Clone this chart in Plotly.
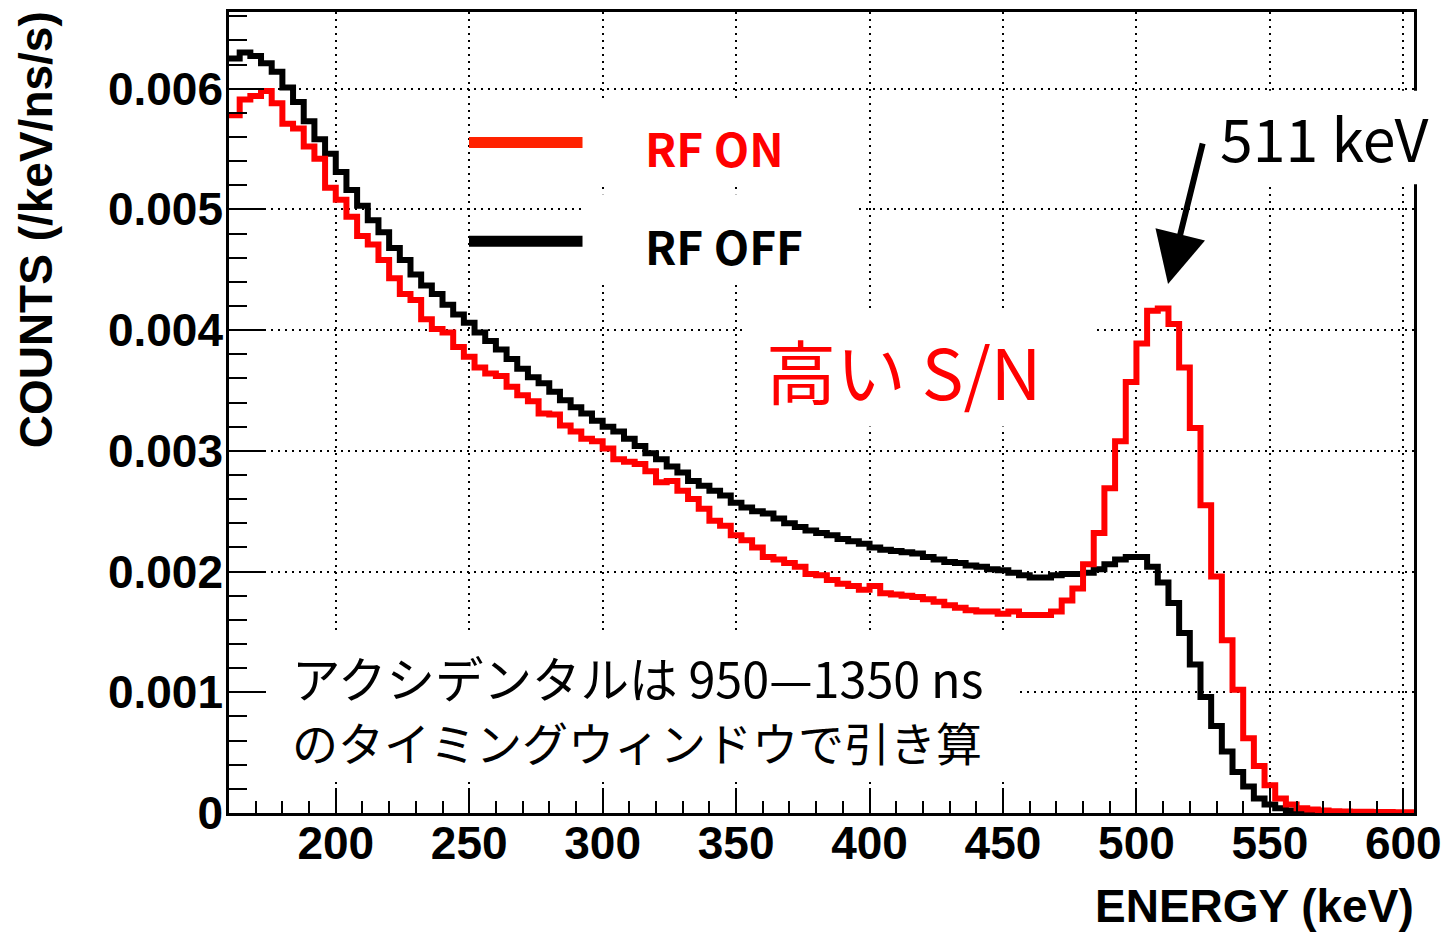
import numpy as np
import plotly.graph_objects as go

# ---------------- data ----------------
BIN_LOW = 160.0   # keV, lower edge of first bin
BIN_WIDTH = 4.0   # keV

rf_off = [
    0.00625, 0.00630, 0.00627, 0.00621, 0.00614, 0.00601, 0.00589, 0.00573, 0.00558, 0.00546,
    0.00531, 0.00516, 0.00503, 0.00491, 0.00481, 0.00468, 0.00458, 0.00446, 0.00437, 0.00430,
    0.00421, 0.00413, 0.00406, 0.00398, 0.00391, 0.00384, 0.00376, 0.00368, 0.00361, 0.00356,
    0.00349, 0.00342, 0.00336, 0.00331, 0.00325, 0.00320, 0.00316, 0.00310, 0.00304, 0.00298,
    0.00293, 0.00287, 0.00282, 0.00275, 0.00271, 0.00267, 0.00263, 0.00257, 0.00253, 0.00250,
    0.00248, 0.00244, 0.00240, 0.00237, 0.00234, 0.00232, 0.00230, 0.00227, 0.00225, 0.00223,
    0.00220, 0.00218, 0.00217, 0.00216, 0.00215, 0.00212, 0.00210, 0.00208, 0.00207, 0.00205,
    0.00204, 0.00202, 0.00201, 0.00199, 0.00197, 0.00195, 0.00195, 0.00197, 0.00198, 0.00198,
    0.00199, 0.00202, 0.00206, 0.00210, 0.00212, 0.00212, 0.00204, 0.00191, 0.00174, 0.00149,
    0.00123, 0.00096, 0.00072, 0.00051, 0.00034, 0.00022, 0.00012, 0.00007, 0.00004, 0.00002,
    0.000012, 0.000008, 0.000005, 0.000004, 0.000003, 0.000002, 0.000002, 0.000001, 0.000001,
    0.000001, 0.000001,
]

rf_on = [
    0.00578, 0.00591, 0.00594, 0.00598, 0.00588, 0.00571, 0.00567, 0.00552, 0.00542, 0.00518,
    0.00508, 0.00494, 0.00478, 0.00471, 0.00458, 0.00443, 0.00430, 0.00425, 0.00409, 0.00401,
    0.00398, 0.00386, 0.00378, 0.00369, 0.00364, 0.00362, 0.00353, 0.00346, 0.00341, 0.00331,
    0.00330, 0.00321, 0.00316, 0.00310, 0.00308, 0.00302, 0.00293, 0.00291, 0.00289, 0.00283,
    0.00274, 0.00275, 0.00267, 0.00260, 0.00252, 0.00242, 0.00238, 0.00230, 0.00226, 0.00220,
    0.00212, 0.00210, 0.00207, 0.00204, 0.00198, 0.00197, 0.00193, 0.00190, 0.00188, 0.00185,
    0.00188, 0.00182, 0.00181, 0.00180, 0.00179, 0.00177, 0.00175, 0.00172, 0.00170, 0.00168,
    0.00167, 0.00167, 0.00165, 0.00167, 0.00164, 0.00164, 0.00164, 0.00167, 0.00176, 0.00186,
    0.00206, 0.00232, 0.00269, 0.00308, 0.00357, 0.00389, 0.00416, 0.00418, 0.00405, 0.00369,
    0.00319, 0.00255, 0.00196, 0.00143, 0.00102, 0.00062, 0.00039, 0.00023, 0.00012, 0.00007,
    0.00004, 0.00003, 0.00002, 0.000015, 0.000012, 0.00001, 0.00001, 0.000008, 0.000008,
    0.000006, 0.000006,
]

x_tick_vals = [200, 250, 300, 350, 400, 450, 500, 550, 600]
x_tick_text = ["200", "250", "300", "350", "400", "450", "500", "550", "600"]
y_tick_vals = [0, 0.001, 0.002, 0.003, 0.004, 0.005, 0.006]
y_tick_text = ["0", "0.001", "0.002", "0.003", "0.004", "0.005", "0.006"]

x_range = [160, 604]
y_range = [0, 0.006635]

# ---------------- helpers ----------------
W, H = 1451, 933
PL, PR, PT, PB = 229, 1419, 9, 813


def px(xp):
    return (xp - PL) / (PR - PL)


def py(yp):
    return (PB - yp) / (PB - PT)


def step_xy(vals):
    n = len(vals)
    edges = BIN_LOW + BIN_WIDTH * np.arange(n + 1)
    return list(edges), list(vals) + [vals[-1]]


AX_FONT = dict(family="Liberation Sans, Arial, sans-serif", size=46, color="black", weight="bold")
JP = "Noto Sans CJK JP"

fig = go.Figure()
xo, yo = step_xy(rf_off)
fig.add_trace(go.Scatter(x=xo, y=yo, mode="lines", line=dict(color="black", width=6, shape="hv"),
                         name="RF OFF", showlegend=False))
xn, yn = step_xy(rf_on)
fig.add_trace(go.Scatter(x=xn, y=yn, mode="lines", line=dict(color="#ff0000", width=6, shape="hv"),
                         name="RF ON", showlegend=False))

grid = dict(showgrid=True, gridcolor="black", gridwidth=2, griddash="2px,5px")

fig.update_xaxes(
    range=x_range, tickmode="array", tickvals=x_tick_vals, ticktext=x_tick_text,
    ticks="inside", ticklen=25, tickwidth=2, tickcolor="black",
    showline=True, linecolor="black", linewidth=2.5, mirror=True,
    tickfont=AX_FONT, zeroline=False, ticklabelstandoff=-12,
    minor=dict(ticks="inside", ticklen=12, tickwidth=2, tickcolor="black", tick0=0, dtick=10, showgrid=False),
    **grid,
)
fig.update_yaxes(
    range=y_range, tickmode="array", tickvals=y_tick_vals, ticktext=y_tick_text,
    ticks="inside", ticklen=35, tickwidth=2, tickcolor="black",
    showline=True, linecolor="black", linewidth=2.5, mirror=True,
    tickfont=AX_FONT, zeroline=False, ticklabelstandoff=-6,
    minor=dict(ticks="inside", ticklen=18, tickwidth=2, tickcolor="black", tick0=0, dtick=0.0002, showgrid=False),
    **grid,
)

shapes = []
# white text-box backgrounds (overlaid by the slide text)
for (x0, y0, x1, y1) in [(584, 97, 857, 183), (584, 192, 857, 283), (746, 310, 1100, 425),
                         (1190, 88, 1451, 182), (270, 632, 1020, 782)]:
    shapes.append(dict(type="rect", xref="paper", yref="paper", x0=px(x0), x1=px(x1), y0=py(y1), y1=py(y0),
                       fillcolor="white", line=dict(width=0), layer="above"))
# legend sample lines
shapes.append(dict(type="line", xref="paper", yref="paper", x0=px(470), x1=px(584), y0=py(140), y1=py(140),
                   line=dict(color="#ff2200", width=11), layer="above"))
shapes.append(dict(type="line", xref="paper", yref="paper", x0=px(470), x1=px(584), y0=py(239), y1=py(239),
                   line=dict(color="black", width=11), layer="above"))

annotations = [
    dict(text="COUNTS (/keV/ns/s)", xref="paper", yref="paper", x=px(35), y=py(6), xanchor="center",
         yanchor="top", textangle=-90, showarrow=False, font=AX_FONT),
    dict(text="ENERGY (keV)", xref="paper", yref="paper", x=px(1421), y=py(906), xanchor="right",
         yanchor="middle", showarrow=False, font=AX_FONT),
    dict(text="RF ON", xref="paper", yref="paper", x=px(645), y=py(145), xanchor="left", yanchor="middle",
         showarrow=False, font=dict(family=JP, size=46, color="#ff0000", weight="bold")),
    dict(text="RF OFF", xref="paper", yref="paper", x=px(645), y=py(243), xanchor="left", yanchor="middle",
         showarrow=False, font=dict(family=JP, size=46, color="black", weight="bold")),
    dict(text="高い S/N", xref="paper", yref="paper", x=px(766), y=py(368), xanchor="left", yanchor="middle",
         showarrow=False, font=dict(family=JP, size=70, color="#ff0000")),
    dict(text="511 keV", xref="paper", yref="paper", x=px(1222), y=py(134), xanchor="left", yanchor="middle",
         showarrow=False, font=dict(family=JP, size=59, color="black")),
    dict(text="アクシデンタルは 950—1350 ns", xref="paper", yref="paper", x=px(290), y=py(676),
         xanchor="left", yanchor="middle", showarrow=False, font=dict(family=JP, size=48.5, color="black")),
    dict(text="のタイミングウィンドウで引き算", xref="paper", yref="paper", x=px(290), y=py(741),
         xanchor="left", yanchor="middle", showarrow=False, font=dict(family=JP, size=46, color="black")),
    dict(text="", xref="paper", yref="paper", x=px(1172), y=py(282), showarrow=True, ax=35, ay=-142,
         axref="pixel", ayref="pixel", arrowhead=2, arrowsize=1.7, arrowwidth=6, arrowcolor="black", standoff=0),
]

fig.update_layout(
    width=W, height=H,
    margin=dict(l=PL, r=W - PR, t=PT, b=H - PB),
    plot_bgcolor="white", paper_bgcolor="white",
    showlegend=False,
    shapes=shapes, annotations=annotations,
)

fig.write_html("out.html")
